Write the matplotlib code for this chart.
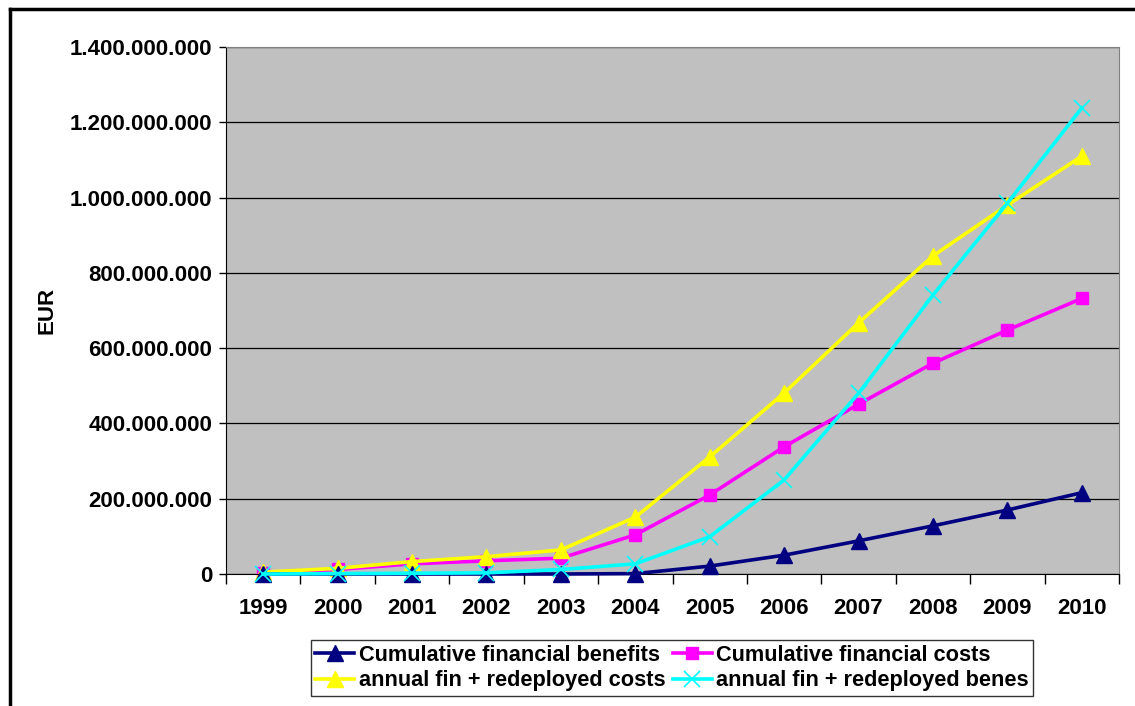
import numpy as np
import matplotlib.pyplot as plt
from matplotlib.lines import Line2D
from matplotlib.ticker import FuncFormatter, MultipleLocator

plt.rcParams['font.family'] = ['Liberation Sans', 'DejaVu Sans']
plt.rcParams['font.weight'] = 'bold'

years = ['1999', '2000', '2001', '2002', '2003', '2004', '2005', '2006',
         '2007', '2008', '2009', '2010']
cum_benefits = [0, 0, 0, 0, 0, 1e6, 21e6, 50e6, 88e6, 128e6, 170e6, 216e6]
cum_costs = [3e6, 12e6, 27e6, 35e6, 42e6, 104e6, 210e6, 338e6, 451e6, 560e6, 648e6, 732e6]
annual_costs = [5e6, 15e6, 33e6, 46e6, 64e6, 151e6, 311e6, 481e6, 667e6, 845e6, 980e6, 1110e6]
annual_benes = [0, 1e6, 2e6, 3e6, 12e6, 27e6, 99e6, 250e6, 480e6, 741e6, 985e6, 1238e6]

fig = plt.figure(figsize=(11.35, 7.06), dpi=100)
ax = fig.add_axes([226/1135, 1 - 574/706, (1119-226)/1135, (574-47)/706])
ax.set_facecolor('#C0C0C0')

x = np.arange(len(years))
ax.plot(x, cum_benefits, color='#000080', lw=2.6, marker='^', ms=11,
        label='Cumulative financial benefits', zorder=3, clip_on=False)
ax.plot(x, cum_costs, color='#FF00FF', lw=2.6, marker='s', ms=9,
        label='Cumulative financial costs', zorder=2, clip_on=False)
ax.plot(x, annual_costs, color='#FFFF00', lw=2.6, marker='^', ms=11,
        label='annual fin + redeployed costs', zorder=2.5, clip_on=False)
ax.plot(x, annual_benes, color='#00FFFF', lw=2.6, marker='x', ms=11, mew=1.2,
        label='annual fin + redeployed benes', zorder=3.5, clip_on=False)

ax.set_xlim(-0.5, len(years) - 0.5)
ax.set_ylim(0, 1.4e9)
ax.yaxis.set_major_locator(MultipleLocator(2e8))
ax.yaxis.set_major_formatter(FuncFormatter(lambda v, p: f'{int(v):,}'.replace(',', '.')))
ax.grid(axis='y', color='black', lw=0.9)
ax.set_axisbelow(True)

ax.set_xticks(x)
ax.set_xticklabels(years)
ax.set_xticks(np.arange(-0.5, len(years)), minor=True)
ax.tick_params(axis='x', which='major', length=0, pad=17, labelsize=16)
ax.tick_params(axis='x', which='minor', length=7, direction='out', width=1)
ax.tick_params(axis='y', length=5, width=1, labelsize=16, pad=5)

for s in ['top', 'right']:
    ax.spines[s].set_color('#808080')
ax.spines['left'].set_color('black')
ax.spines['bottom'].set_color('black')

fig.text(47/1135, 1 - 310/706, 'EUR', rotation=90, ha='center', va='center',
         fontsize=16, fontweight='bold')

# legend order: row 1 = cumulative, row 2 = annual
handles, labels = ax.get_legend_handles_labels()
order = [0, 2, 1, 3]
leg = fig.legend([handles[i] for i in order], [labels[i] for i in order],
                 ncol=2, loc='center',
                 bbox_to_anchor=(672/1135, 1 - 668/706), fontsize=15.7,
                 frameon=True, fancybox=False, edgecolor='black',
                 handlelength=1.8, handletextpad=0.2, columnspacing=0.35,
                 labelspacing=0.2, borderpad=0.2, borderaxespad=0)
leg.get_frame().set_linewidth(1)

# outer border (top and left visible)
fig.add_artist(Line2D([10/1135, 10/1135], [0, 1 - 9/706], color='black', lw=2.5,
                      transform=fig.transFigure))
fig.add_artist(Line2D([10/1135, 1], [1 - 9/706, 1 - 9/706], color='black', lw=2.5,
                      transform=fig.transFigure))

fig.savefig('out.png', dpi=100)
